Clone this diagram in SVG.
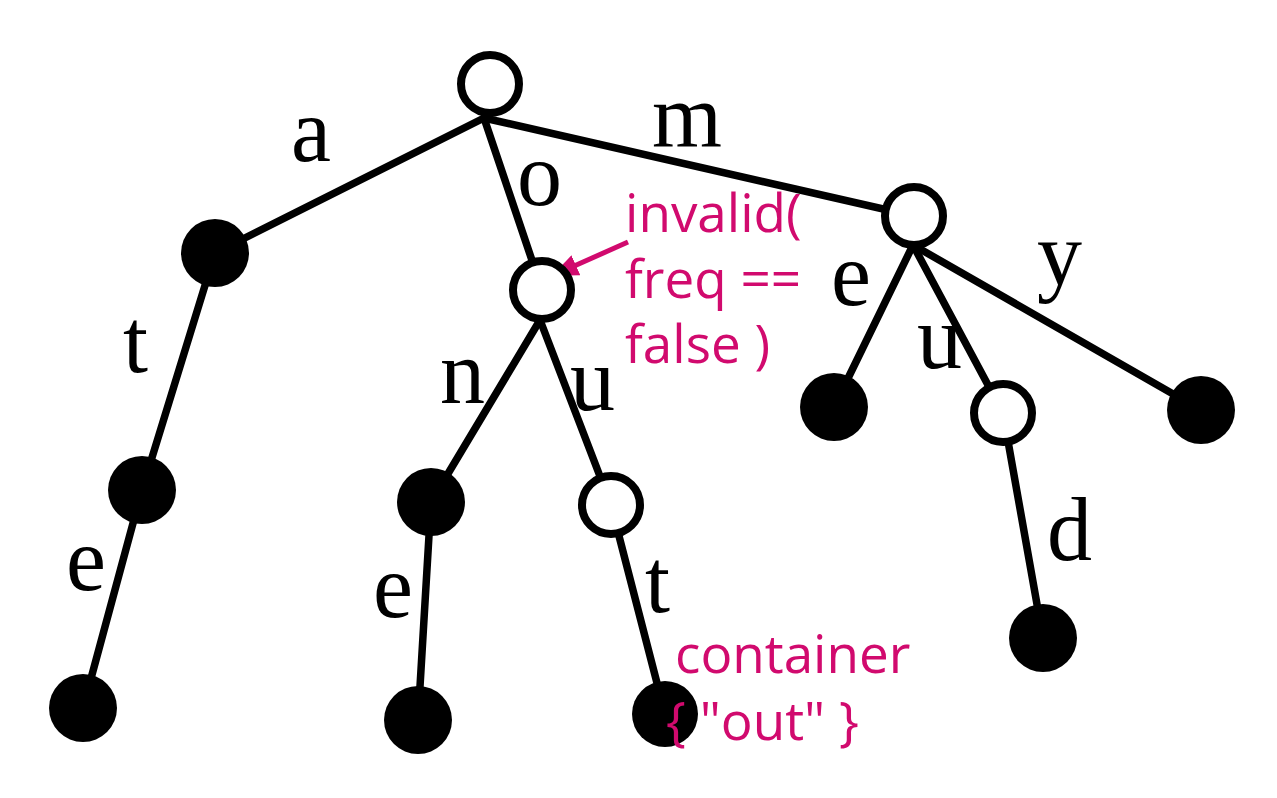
<svg xmlns="http://www.w3.org/2000/svg" width="1277" height="798" viewBox="0 0 1277 798">
<defs>
<style>
.edge{stroke:#000;stroke-width:7.5;stroke-linecap:round;fill:none}
.open{fill:#fff;stroke:#000;stroke-width:8}
.full{fill:#000}
.lbl{font-family:"Liberation Serif","Times New Roman",serif;font-size:90px;fill:#000}
.note{font-family:"Open Sans","Noto Sans",sans-serif;font-size:53px;fill:#D10A6E}
</style>
<marker id="ah" markerWidth="26" markerHeight="22" refX="24" refY="11" orient="auto" markerUnits="userSpaceOnUse">
<path d="M0,0 L26,11 L0,22 Z" fill="#D10A6E"/>
</marker>
</defs>
<rect width="1277" height="798" fill="#fff"/>
<g id="connectors">
<line class="edge" x1="484" y1="118" x2="215" y2="253"/>
<line class="edge" x1="484" y1="118" x2="542" y2="290"/>
<line class="edge" x1="484" y1="118" x2="914" y2="216"/>
<line class="edge" x1="215" y1="253" x2="142" y2="490"/>
<line class="edge" x1="142" y1="490" x2="83" y2="708"/>
<line class="edge" x1="540" y1="320" x2="431" y2="502"/>
<line class="edge" x1="540" y1="320" x2="611" y2="505"/>
<line class="edge" x1="431" y1="502" x2="418" y2="720"/>
<line class="edge" x1="611" y1="505" x2="665" y2="714"/>
<line class="edge" x1="913" y1="245" x2="834" y2="407"/>
<line class="edge" x1="913" y1="245" x2="1003" y2="413"/>
<line class="edge" x1="913" y1="245" x2="1201" y2="410"/>
<line class="edge" x1="1003" y1="413" x2="1043" y2="638"/>
<line x1="628" y1="242" x2="554" y2="275" stroke="#D10A6E" stroke-width="5" marker-end="url(#ah)"/>
</g>
<g id="n-root"><circle class="open" cx="490" cy="84" r="29"/></g>
<g id="n-a"><circle class="full" cx="215" cy="253" r="34"/></g>
<g id="n-o"><circle class="open" cx="542" cy="290" r="29"/></g>
<g id="n-m"><circle class="open" cx="914" cy="216" r="29"/></g>
<g id="n-at"><circle class="full" cx="142" cy="490" r="34"/></g>
<g id="n-ate"><circle class="full" cx="83" cy="708" r="34"/></g>
<g id="n-on"><circle class="full" cx="431" cy="502" r="34"/></g>
<g id="n-one"><circle class="full" cx="418" cy="720" r="34"/></g>
<g id="n-ou"><circle class="open" cx="611" cy="505" r="29"/></g>
<g id="n-out"><circle class="full" cx="665" cy="714" r="33"/></g>
<g id="n-me"><circle class="full" cx="834" cy="407" r="34"/></g>
<g id="n-mu"><circle class="open" cx="1003" cy="413" r="29"/></g>
<g id="n-mud"><circle class="full" cx="1043" cy="638" r="34"/></g>
<g id="n-my"><circle class="full" cx="1201" cy="410" r="34"/></g>
<g id="labels">
<text class="lbl" x="291" y="161">a</text>
<text class="lbl" x="517" y="205">o</text>
<text class="lbl" x="652" y="147">m</text>
<text class="lbl" x="123" y="372">t</text>
<text class="lbl" x="66" y="590">e</text>
<text class="lbl" x="440" y="403">n</text>
<text class="lbl" x="570" y="410">u</text>
<text class="lbl" x="373" y="617">e</text>
<text class="lbl" x="645" y="612">t</text>
<text class="lbl" x="831" y="305">e</text>
<text class="lbl" x="917" y="368">u</text>
<text class="lbl" x="1037" y="285">y</text>
<text class="lbl" x="1047" y="560">d</text>
</g>
<g id="notes">
<text class="note" x="625" y="232">invalid(</text>
<text class="note" x="625" y="298">freq ==</text>
<text class="note" x="625" y="363">false )</text>
<text class="note" x="675" y="673">container</text>
<text class="note" x="666" y="740">{ "out" }</text>
</g>
</svg>
